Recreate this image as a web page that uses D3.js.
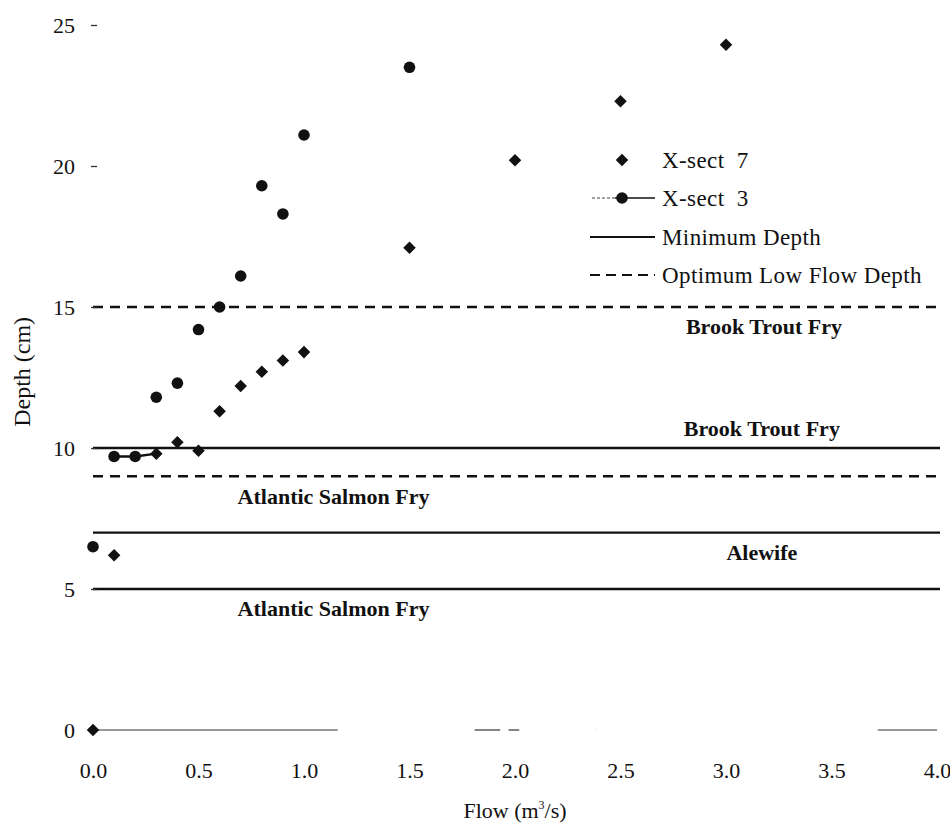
<!DOCTYPE html>
<html>
<head>
<meta charset="utf-8">
<script src="https://cdn.jsdelivr.net/npm/d3@7"></script>
<style>
  body { margin: 0; background: #fff; }
  svg { display: block; }
  text { font-family: "Liberation Serif", "Times New Roman", serif; fill: #111; }
</style>
</head>
<body>
<svg id="chart"></svg>
<script>
const width = 950;
const height = 834;

// tick values
const xTicks = [0, 0.5, 1.0, 1.5, 2.0, 2.5, 3.0, 3.5, 4.0];
const yTicks = [0, 5, 10, 15, 20, 25];

// X-sect 7 (diamonds)
const xsect7Flow  = [0.0, 0.1, 0.3, 0.4, 0.5, 0.6, 0.7, 0.8, 0.9, 1.0, 1.5, 2.0, 2.5, 3.0];
const xsect7Depth = [0.0, 6.2, 9.8, 10.2, 9.9, 11.3, 12.2, 12.7, 13.1, 13.4, 17.1, 20.2, 22.3, 24.3];

// X-sect 3 (circles)
const xsect3Flow  = [0.0, 0.1, 0.2, 0.3, 0.4, 0.5, 0.6, 0.7, 0.8, 0.9, 1.0, 1.5];
const xsect3Depth = [6.5, 9.7, 9.7, 11.8, 12.3, 14.2, 15.0, 16.1, 19.3, 18.3, 21.1, 23.5];

// the short joined run near 10 cm
const joinedFlow  = [0.1, 0.2, 0.3];
const joinedDepth = [9.7, 9.7, 9.8];

// reference depths
const refDepth  = [15, 10, 9, 7, 5];
const refKind   = ["optimum", "minimum", "optimum", "minimum", "minimum"];
const refLabel  = ["Brook Trout Fry", "Brook Trout Fry", "Atlantic Salmon Fry", "Alewife", "Atlantic Salmon Fry"];
const refLabelX = [3.18, 3.17, 1.14, 3.17, 1.14];   // flow units, label centre
const refLabelDy = [27, -12, 28, 27, 27];           // px from line to baseline

// legend
const legendNames = ["X-sect  7", "X-sect  3", "Minimum Depth", "Optimum Low Flow Depth"];

const xScale = d3.scaleLinear().domain([0, 4]).range([93, 937]);
const yScale = d3.scaleLinear().domain([0, 25]).range([730, 25]);

const svg = d3.select("#chart")
    .attr("width", width)
    .attr("height", height);

// reference lines
svg.append("g")
    .selectAll("line")
    .data(refDepth)
    .enter()
    .append("line")
    .attr("x1", xScale(0))
    .attr("x2", xScale(4) + 3)
    .attr("y1", d => yScale(d))
    .attr("y2", d => yScale(d))
    .style("stroke", "#111")
    .style("stroke-width", 2.4)
    .style("stroke-dasharray", (d, i) => refKind[i] === "optimum" ? "10,7" : null);

svg.append("g")
    .selectAll("text")
    .data(refLabel)
    .enter()
    .append("text")
    .attr("x", (d, i) => xScale(refLabelX[i]))
    .attr("y", (d, i) => yScale(refDepth[i]) + refLabelDy[i])
    .attr("text-anchor", "middle")
    .style("font-size", "22px")
    .style("font-weight", "bold")
    .text(d => d);

// x axis: faint, broken base line like the scan
const baseSegments = [[0, 1.16], [1.79, 1.93], [1.95, 2.02], [2.36, 2.38], [3.7, 4.0]];
svg.append("g")
    .selectAll("line")
    .data(baseSegments)
    .enter()
    .append("line")
    .attr("x1", d => xScale(d[0]) + 4)
    .attr("x2", d => xScale(d[1]))
    .attr("y1", yScale(0))
    .attr("y2", yScale(0))
    .style("stroke", "#333")
    .style("stroke-width", 1.2);

const xAxis = d3.axisBottom(xScale)
    .tickValues(xTicks)
    .tickFormat(d3.format(".1f"))
    .tickSize(0)
    .tickPadding(32);

const gx = svg.append("g")
    .attr("transform", `translate(0, ${yScale(0)})`)
    .call(xAxis);
gx.select(".domain").remove();
gx.selectAll("text")
    .style("font-size", "22px")
    .style("font-family", "'Liberation Serif', serif");

const yAxis = d3.axisLeft(yScale)
    .tickValues(yTicks)
    .tickSize(6)
    .tickPadding(16);

const gy = svg.append("g")
    .attr("transform", `translate(97, 0)`)
    .call(yAxis);
gy.select(".domain").remove();
gy.selectAll("line").style("stroke", "#333").style("stroke-width", 1.3);
gy.selectAll("text")
    .style("font-size", "22px")
    .style("font-family", "'Liberation Serif', serif");

// axis titles
svg.append("text")
    .attr("transform", `translate(30, ${yScale(12.7)}) rotate(-90)`)
    .attr("text-anchor", "middle")
    .style("font-size", "24px")
    .text("Depth (cm)");

const flowTitle = svg.append("text")
    .attr("x", xScale(2))
    .attr("y", 818)
    .attr("text-anchor", "middle")
    .style("font-size", "22px");
flowTitle.append("tspan").text("Flow (m");
flowTitle.append("tspan").attr("dy", -9).style("font-size", "12px").text("3");
flowTitle.append("tspan").attr("dy", 9).text("/s)");

// joined run
const line = d3.line()
    .x((d, i) => xScale(joinedFlow[i]))
    .y((d, i) => yScale(joinedDepth[i]));
svg.append("path")
    .attr("d", line(joinedDepth))
    .style("fill", "none")
    .style("stroke", "#111")
    .style("stroke-width", 2.4);

// points
const diamond = d3.symbol().type(d3.symbolDiamond2 || d3.symbolDiamond).size(100);

svg.append("g")
    .selectAll("path")
    .data(xsect7Depth)
    .enter()
    .append("path")
    .attr("d", diamond)
    .attr("transform", (d, i) => `translate(${xScale(xsect7Flow[i])}, ${yScale(d)})`)
    .style("fill", "#111");

svg.append("g")
    .selectAll("circle")
    .data(xsect3Depth)
    .enter()
    .append("circle")
    .attr("cx", (d, i) => xScale(xsect3Flow[i]))
    .attr("cy", d => yScale(d))
    .attr("r", 5.8)
    .style("fill", "#111");

// legend
const legend = svg.append("g");
const legendY = [160, 198, 237, 275];

legend.append("path")
    .attr("d", diamond)
    .attr("transform", `translate(622, ${legendY[0]})`)
    .style("fill", "#111");

legend.append("line")
    .attr("x1", 592).attr("x2", 615)
    .attr("y1", legendY[1]).attr("y2", legendY[1])
    .style("stroke", "#444").style("stroke-width", 1)
    .style("stroke-dasharray", "3,2");
legend.append("line")
    .attr("x1", 615).attr("x2", 655)
    .attr("y1", legendY[1]).attr("y2", legendY[1])
    .style("stroke", "#111").style("stroke-width", 1.5);
legend.append("circle")
    .attr("cx", 622).attr("cy", legendY[1])
    .attr("r", 5.8)
    .style("fill", "#111");

legend.append("line")
    .attr("x1", 590).attr("x2", 655)
    .attr("y1", legendY[2]).attr("y2", legendY[2])
    .style("stroke", "#111").style("stroke-width", 1.8);

legend.append("line")
    .attr("x1", 590).attr("x2", 655)
    .attr("y1", legendY[3]).attr("y2", legendY[3])
    .style("stroke", "#111").style("stroke-width", 1.8)
    .style("stroke-dasharray", "10,6");

legend.selectAll("text")
    .data(legendNames)
    .enter()
    .append("text")
    .attr("x", 662)
    .attr("y", (d, i) => legendY[i])
    .attr("dy", "0.35em")
    .style("font-size", "23px")
    .style("letter-spacing", "0.4px")
    .style("white-space", "pre")
    .text(d => d);
</script>
</body>
</html>
